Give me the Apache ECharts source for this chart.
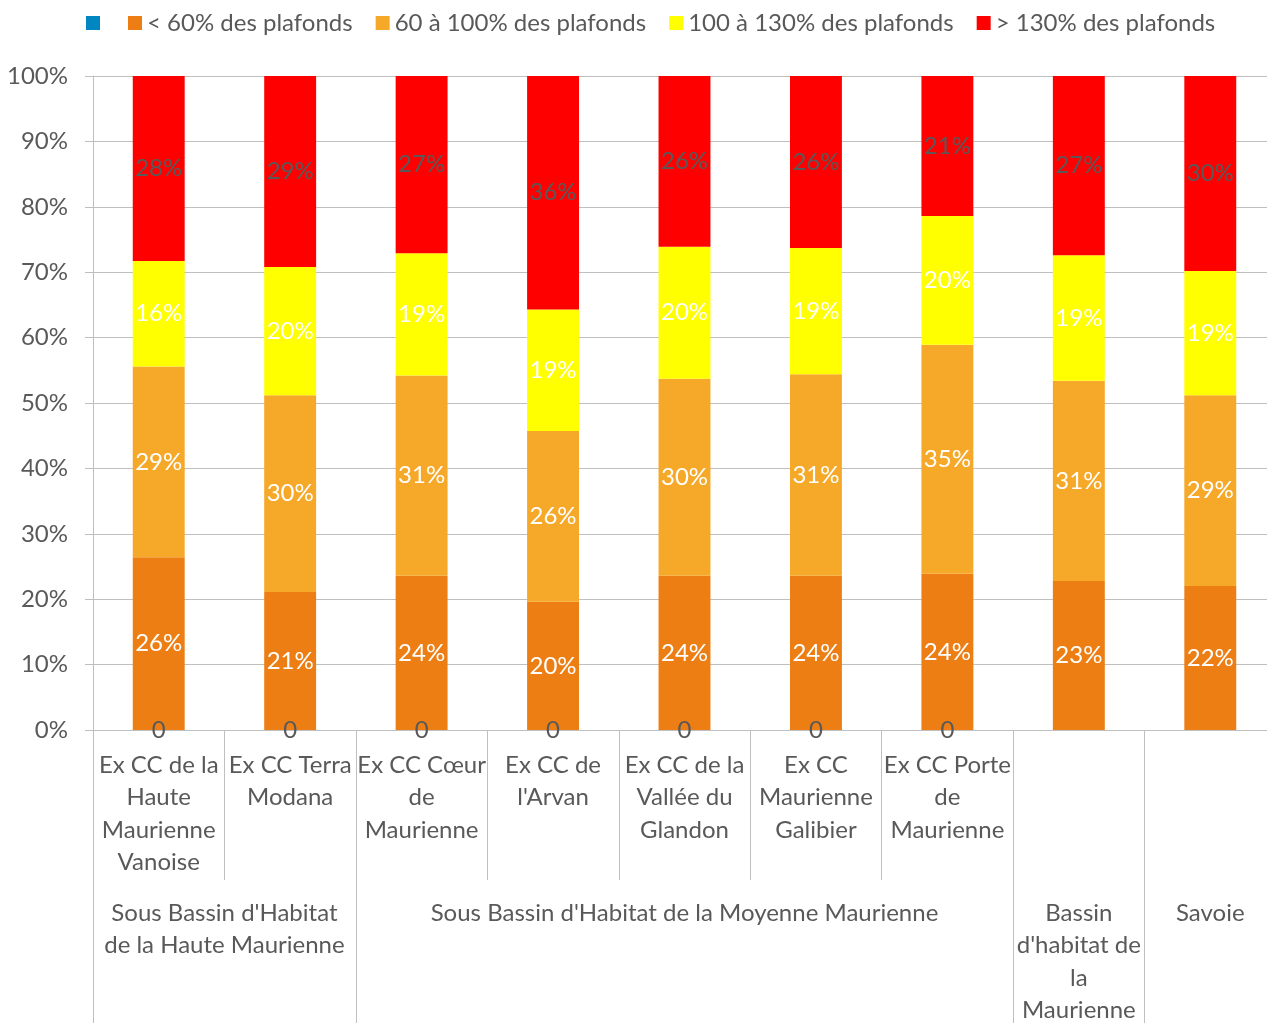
<!DOCTYPE html>
<html>
<head>
<meta charset="utf-8">
<script src="https://cdn.jsdelivr.net/npm/echarts@6/dist/echarts.min.js"></script>
<style>
  html, body { margin: 0; padding: 0; background: #fff; }
  #chart { width: 1267px; height: 1023px; }
</style>
</head>
<body>
<div id="chart"></div>
<script>
// Territories (first level of the category axis)
const categories = [
  "Ex CC de la\nHaute\nMaurienne\nVanoise",
  "Ex CC Terra\nModana",
  "Ex CC Cœur\nde\nMaurienne",
  "Ex CC de\nl'Arvan",
  "Ex CC de la\nVallée du\nGlandon",
  "Ex CC\nMaurienne\nGalibier",
  "Ex CC Porte\nde\nMaurienne",
  "",
  ""
];

// Groupings (second level of the category axis): label and number of territories covered
const groupNames = [
  "Sous Bassin d'Habitat\nde la Haute Maurienne",
  "Sous Bassin d'Habitat de la Moyenne Maurienne",
  "Bassin\nd'habitat de\nla\nMaurienne",
  "Savoie"
];
const groupSpans = [2, 5, 1, 1];

// Series names
const seriesNames = [
  "\u200b",
  "< 60% des plafonds",
  "60 à 100% des plafonds",
  "100 à 130% des plafonds",
  "> 130% des plafonds"
];

// Shares of households by income level relative to the ceilings (%)
const emptySeries  = [0, 0, 0, 0, 0, 0, 0, null, null];
const below60      = [26.4, 21.1, 23.6, 19.6, 23.6, 23.6, 23.9, 22.8, 22.0];
const from60to100  = [29.2, 30.1, 30.6, 26.1, 30.1, 30.8, 35.0, 30.6, 29.2];
const from100to130 = [16.1, 19.6, 18.7, 18.6, 20.2, 19.3, 19.7, 19.2, 19.0];
const above130     = [28.3, 29.2, 27.1, 35.7, 26.1, 26.3, 21.4, 27.4, 29.8];

const FONT = 'Lato';
const GREY = '#595959';
const LINE = '#bfbfbf';

// Second axis uses half-category slots: slot 2*k is the left edge of category k
const nSlots = categories.length * 2 + 1;
const groupSlots = new Array(nSlots).fill('');
const groupEdges = new Set([0]);
let start = 0;
groupNames.forEach((name, i) => {
  groupSlots[2 * start + groupSpans[i]] = name;
  start += groupSpans[i];
  groupEdges.add(2 * start);
});

const pctLabel = (color) => ({
  show: true,
  position: 'inside',
  color: color,
  fontFamily: FONT,
  fontSize: 24,
  formatter: (p) => Math.round(p.value) + '%'
});

const colors = ['#0086c0', '#ec7e14', '#f6a828', '#ffff00', '#ff0000'];
const values = [emptySeries, below60, from60to100, from100to130, above130];
const labelColors = [GREY, '#ffffff', '#ffffff', '#ffffff', GREY];

const series = values.map((data, i) => ({
  name: seriesNames[i],
  type: 'bar',
  stack: 'total',
  data: data,
  barWidth: '39.5%',
  itemStyle: { color: colors[i] },
  label: i === 0
    ? { show: true, position: 'inside', color: GREY, fontFamily: FONT, fontSize: 24, formatter: (p) => String(p.value) }
    : pctLabel(labelColors[i]),
  emphasis: { disabled: true }
}));

const chart = echarts.init(document.getElementById('chart'), null, { renderer: 'canvas' });
chart.setOption({
  animation: false,
  backgroundColor: '#ffffff',
  color: colors,
  legend: {
    left: 81,
    top: 6,
    itemWidth: 14,
    itemHeight: 14,
    itemGap: 23,
    icon: 'rect',
    selectedMode: false,
    textStyle: { color: GREY, fontFamily: FONT, fontSize: 24 },
    data: seriesNames
  },
  grid: {
    left: 93, right: -9, top: 76, bottom: 293,
    containLabel: false,
    outerBoundsMode: 'none'
  },
  xAxis: [
    {
      type: 'category',
      data: categories,
      axisLine: { show: true, lineStyle: { color: LINE, width: 1 } },
      axisTick: { show: true, interval: 0, length: 150, lineStyle: { color: LINE, width: 1 } },
      axisLabel: {
        interval: 0,
        margin: 19,
        color: GREY,
        fontFamily: FONT,
        fontSize: 24,
        lineHeight: 32.5,
        verticalAlign: 'top'
      }
    },
    {
      type: 'category',
      data: groupSlots,
      boundaryGap: false,
      position: 'bottom',
      offset: 150,
      axisLine: { show: false },
      axisTick: {
        show: true,
        length: 145,
        interval: (idx) => groupEdges.has(idx),
        lineStyle: { color: LINE, width: 1 }
      },
      axisLabel: {
        interval: 0,
        margin: 17,
        color: GREY,
        fontFamily: FONT,
        fontSize: 24,
        lineHeight: 32.5,
        verticalAlign: 'top'
      }
    }
  ],
  yAxis: {
    type: 'value',
    min: 0,
    max: 100,
    interval: 10,
    axisLine: { show: true, lineStyle: { color: LINE, width: 1 } },
    axisTick: { show: true, length: 8, lineStyle: { color: LINE, width: 1 } },
    splitLine: { show: true, lineStyle: { color: LINE, width: 1 } },
    axisLabel: {
      margin: 25,
      color: GREY,
      fontFamily: FONT,
      fontSize: 24,
      formatter: '{value}%'
    }
  },
  series: series
});
</script>
</body>
</html>
